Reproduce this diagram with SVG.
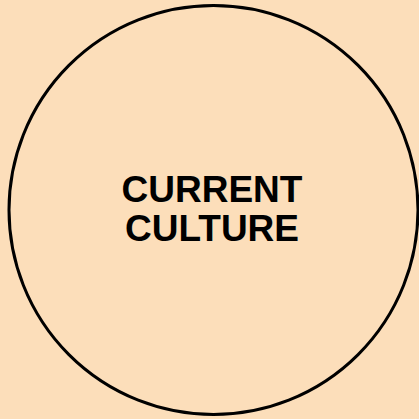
<svg xmlns="http://www.w3.org/2000/svg" width="419" height="419" viewBox="0 0 419 419">
<style>
.lbl{font-family:"Liberation Sans",Arial,sans-serif;font-weight:bold;font-size:37px;fill:#000;text-anchor:middle}
</style>
<rect x="0" y="0" width="419" height="419" fill="#FCDEBA"/>
<g id="current-culture">
<circle cx="213.5" cy="210" r="204.5" fill="#FCDEBA" stroke="#000" stroke-width="3"/>
<text class="lbl" x="212" y="202">CURRENT</text>
<text class="lbl" x="212" y="241">CULTURE</text>
</g>
<g id="connectors"/>
</svg>
